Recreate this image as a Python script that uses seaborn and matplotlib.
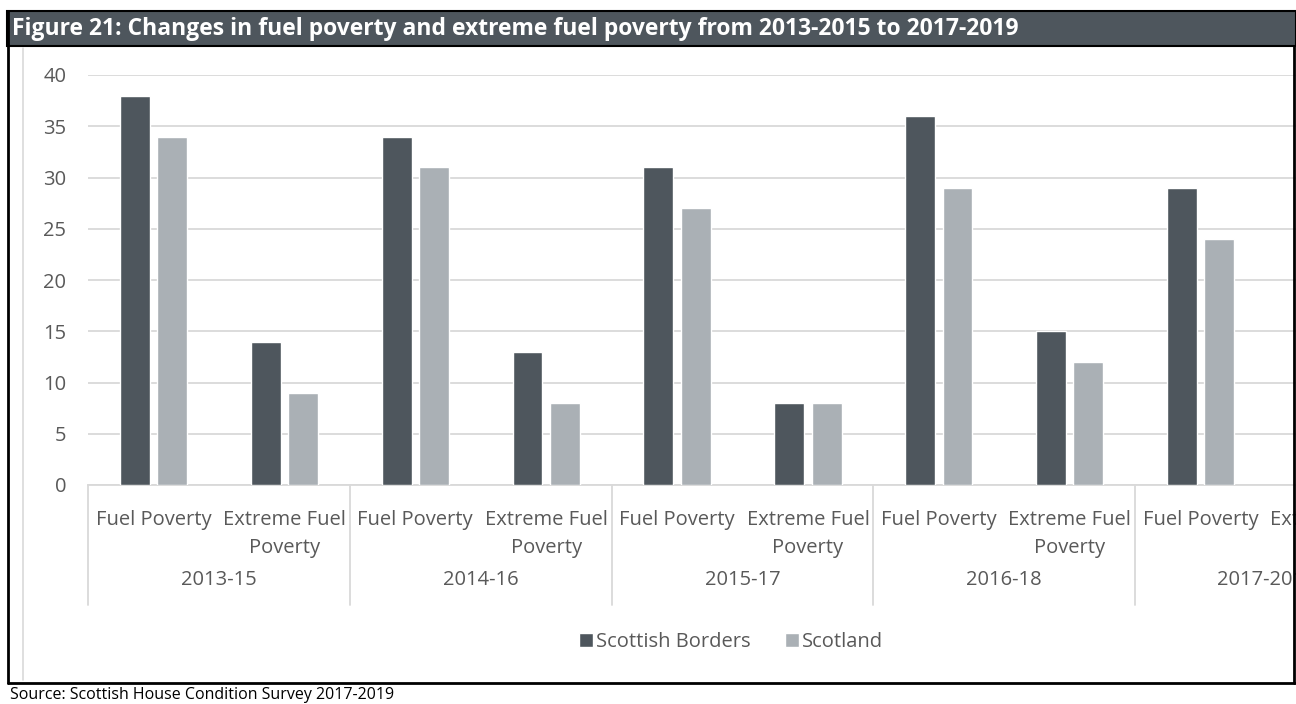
import numpy as np
import pandas as pd
import matplotlib
matplotlib.use("Agg")
import matplotlib.pyplot as plt
from matplotlib.patches import Rectangle
from matplotlib.lines import Line2D
import seaborn as sns

# ---------------- data ----------------
periods = ["2013-15", "2014-16", "2015-17", "2016-18", "2017-2019"]
measures = ["Fuel Poverty", "Extreme Fuel\nPoverty"]
series = ["Scottish Borders", "Scotland"]
borders_fp = [38, 34, 31, 36, 29]
borders_efp = [14, 13, 8, 15, np.nan]   # last value lies outside the visible area
scotland_fp = [34, 31, 27, 29, 24]
scotland_efp = [9, 8, 8, 12, np.nan]
title = "Figure 21: Changes in fuel poverty and extreme fuel poverty from 2013-2015 to 2017-2019"
source = "Source: Scottish House Condition Survey 2017-2019"

# ---------------- table ----------------
rows = []
order = []
for i, p in enumerate(periods):
    for m, b_vals, s_vals in ((measures[0], borders_fp, scotland_fp),
                              (measures[1], borders_efp, scotland_efp)):
        key = f"{p}|{m}"
        order.append(key)
        rows.append({"key": key, "area": series[0], "value": b_vals[i]})
        rows.append({"key": key, "area": series[1], "value": s_vals[i]})
df = pd.DataFrame(rows)

W, H = 1296, 704
DARK = "#4e565d"
LIGHT = "#aab0b5"
GRID = "#d9d9d9"
TXT = "#595959"
FONT = ["Open Sans", "DejaVu Sans"]
FS = 14.5

sns.set_theme(style="white")
plt.rcParams["font.family"] = FONT

fig = plt.figure(figsize=(W / 100, H / 100), dpi=100)

def fx(x):
    return x / W

def fy(y):
    return 1 - y / H

# frame / decorations
fig.add_artist(Line2D([fx(8), fx(8)], [fy(11), fy(683)], color="black", lw=2))
fig.add_artist(Line2D([fx(8), fx(1296)], [fy(683), fy(683)], color="black", lw=2))
fig.add_artist(Line2D([fx(1294), fx(1294)], [fy(46), fy(683)], color="black", lw=2))
fig.add_artist(Line2D([fx(23), fx(23)], [fy(48), fy(680)], color=GRID, lw=1.2))
fig.add_artist(Rectangle((fx(7), fy(46)), fx(1296 - 7), (46 - 11) / H,
                         facecolor=DARK, edgecolor="black", lw=1.5))
fig.text(fx(12), fy(29), title, color="white", fontsize=16.5, fontweight="bold",
         ha="left", va="center", family=FONT)
fig.text(fx(10), fy(695), source, color="black", fontsize=11.5,
         ha="left", va="center", family=FONT)

# axes extending beyond right edge of the figure (cut-off as in reference)
ax = fig.add_axes([fx(88), fy(485), fx(1397 - 88), (485 - 75) / H])
sns.barplot(data=df, x="key", y="value", hue="area", order=order,
            hue_order=series, palette=[DARK, LIGHT], width=0.57, gap=0.2,
            saturation=1, ax=ax, zorder=3)

ax.set_ylim(0, 40)
ax.set_xlim(-0.5, len(order) - 0.5)
ax.set_yticks(np.arange(0, 41, 5))
ax.yaxis.grid(True, color=GRID, lw=1.3)
ax.set_axisbelow(True)
for s in ["top", "right", "left"]:
    ax.spines[s].set_visible(False)
ax.spines["bottom"].set_color(GRID)
ax.spines["bottom"].set_linewidth(1.3)
ax.set_xlabel("")
ax.set_ylabel("")
ax.tick_params(axis="y", length=0, pad=15.5, labelsize=FS, labelcolor=TXT)
ax.tick_params(axis="x", length=0, pad=18, labelsize=FS, labelcolor=TXT)
ax.set_xticks(range(len(order)))
ax.set_xticklabels([k.split("|")[1] for k in order], linespacing=1.5)

trans = ax.get_xaxis_transform()
for i, p in enumerate(periods):
    ax.text(2 * i + 0.5, (485 - 580) / 410, p, transform=trans, ha="center",
            va="center", fontsize=FS, color=TXT, clip_on=False)
for b in np.arange(-0.5, len(order), 2):
    ax.plot([b, b], [0, -(605 - 485) / 410], transform=trans, color=GRID,
            lw=1.3, clip_on=False)

handles, labels = ax.get_legend_handles_labels()
if ax.get_legend():
    ax.get_legend().remove()
fig.legend(handles, labels, loc="center", bbox_to_anchor=(fx(731), fy(642)),
           ncol=2, frameon=False, fontsize=FS, handlelength=0.7,
           handleheight=0.7, handletextpad=0.15, columnspacing=1.7,
           labelcolor=TXT)

fig.savefig("out.png", dpi=100)
